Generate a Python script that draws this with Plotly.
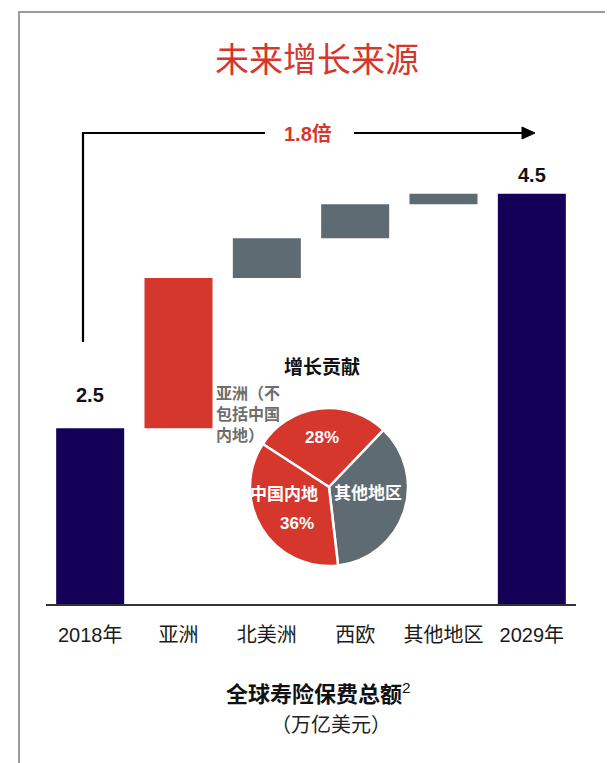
import plotly.graph_objects as go

# waterfall data (trillion USD)
categories = ["2018年", "亚洲", "北美洲", "西欧", "其他地区", "2029年"]
start_total = 2.5
increments = [1.28, 0.34, 0.29, 0.09]
end_total = 4.5

# growth contribution pie
pie_labels = ["亚洲（不包括中国内地）", "其他地区", "中国内地"]
pie_values = [28, 36, 36]

NAVY = "#150058"
RED = "#d5372d"
GREY = "#5f6b73"
FONT = "Liberation Sans, Arial, Noto Sans CJK SC"

# page is 613x763 but the html body adds an 8px margin
OFF = 8
W, H = 613 - OFF, 763 - OFF
PLOT_L, PLOT_R, PLOT_T, PLOT_B = 46, 576, 40, 604   # target page pixels
ML, MR, MT, MB = PLOT_L - OFF, W + OFF - PLOT_R, PLOT_T - OFF, H + OFF - PLOT_B
PW, PH = PLOT_R - PLOT_L, PLOT_B - PLOT_T
Y_MIN, PX_PER_UNIT = 1.0, 117.25


def px_x(x):
    return (x - PLOT_L) / PW


def px_y(y):
    return (PLOT_B - y) / PH


# floating bars: totals from zero, increments stacked on running sum
values = [start_total] + increments + [end_total]
bases = [0]
running = start_total
for inc in increments:
    bases.append(running)
    running += inc
bases.append(0)
colors = [NAVY, RED, GREY, GREY, GREY, NAVY]

fig = go.Figure()
fig.add_trace(go.Bar(
    x=categories, y=values, base=bases,
    marker=dict(color=colors, line=dict(width=0)),
    width=0.77, hoverinfo="skip", showlegend=False,
))

fig.add_trace(go.Pie(
    labels=pie_labels, values=pie_values, sort=False,
    direction="clockwise", rotation=-57,
    marker=dict(colors=[RED, GREY, RED], line=dict(color="white", width=2.5)),
    textinfo="none", hoverinfo="skip", showlegend=False,
    domain=dict(x=[px_x(250), px_x(408)], y=[px_y(566), px_y(408)]),
))

annotations = [
    dict(x=px_x(317), y=px_y(60), text="未来增长来源",
         font=dict(size=34, color=RED, family=FONT)),
    dict(x=px_x(308), y=px_y(133), text="<b>1.8倍</b>",
         font=dict(size=20, color=RED, family=FONT)),
    dict(x=categories[0], y=start_total, xref="x", yref="y", yshift=33,
         text="<b>2.5</b>", font=dict(size=20, color="#111", family=FONT)),
    dict(x=categories[-1], y=end_total, xref="x", yref="y", yshift=19,
         text="<b>4.5</b>", font=dict(size=20, color="#111", family=FONT)),
    dict(x=px_x(322), y=px_y(367), text="<b>增长贡献</b>",
         font=dict(size=19, color="#111", family=FONT)),
    dict(x=px_x(214), y=px_y(414), xanchor="left", align="left",
         text="<b>亚洲（不<br>包括中国<br>内地）</b>",
         font=dict(size=16, color="#6e6e6e", family=FONT)),
    dict(x=px_x(322), y=px_y(437), text="<b>28%</b>",
         font=dict(size=17, color="white", family=FONT)),
    dict(x=px_x(284), y=px_y(494), text="<b>中国内地</b>",
         font=dict(size=17, color="white", family=FONT)),
    dict(x=px_x(297), y=px_y(523), text="<b>36%</b>",
         font=dict(size=17, color="white", family=FONT)),
    dict(x=px_x(368), y=px_y(493), text="<b>其他地区</b>",
         font=dict(size=17, color="white", family=FONT)),
    dict(x=px_x(318), y=px_y(693), text="<b>全球寿险保费总额</b><sup>2</sup>",
         font=dict(size=22, color="#111", family=FONT)),
    dict(x=px_x(331), y=px_y(725), text="（万亿美元）",
         font=dict(size=20, color="#222", family=FONT)),
]
for a in annotations:
    a.setdefault("xref", "paper")
    a.setdefault("yref", "paper")
    a.setdefault("xanchor", "center")
    a.setdefault("yanchor", "middle")
    a.setdefault("showarrow", False)

shapes = [
    # outer frame (runs off the right and bottom edges)
    dict(type="rect", xref="paper", yref="paper",
         x0=px_x(19), x1=px_x(700), y0=px_y(12), y1=px_y(820),
         line=dict(color="#9a9a9a", width=2)),
    # growth arrow: left elbow, right segment and head
    dict(type="path", xref="paper", yref="paper",
         path=f"M {px_x(83)},{px_y(342)} L {px_x(83)},{px_y(133)} L {px_x(265)},{px_y(133)}",
         line=dict(color="black", width=2.2)),
    dict(type="line", xref="paper", yref="paper",
         x0=px_x(354), x1=px_x(526), y0=px_y(133), y1=px_y(133),
         line=dict(color="black", width=2.2)),
    dict(type="path", xref="paper", yref="paper",
         path=f"M {px_x(522)},{px_y(127)} L {px_x(535)},{px_y(133)} L {px_x(522)},{px_y(139)} Z",
         fillcolor="black", line=dict(color="black", width=1)),
]

fig.update_layout(
    width=W, height=H,
    margin=dict(l=ML, r=MR, t=MT, b=MB),
    plot_bgcolor="white", paper_bgcolor="white",
    font=dict(family=FONT),
    showlegend=False,
    annotations=annotations, shapes=shapes,
    xaxis=dict(
        type="category", range=[-0.5, 5.5],
        showline=True, linecolor="#333", linewidth=2,
        ticks="", ticklabelstandoff=12,
        tickfont=dict(size=20, color="#1a1a1a", family=FONT),
        showgrid=False, zeroline=False, fixedrange=True,
    ),
    yaxis=dict(
        range=[Y_MIN, Y_MIN + PH / PX_PER_UNIT],
        visible=False, showgrid=False, zeroline=False,
    ),
)

fig.write_html("out.html")
